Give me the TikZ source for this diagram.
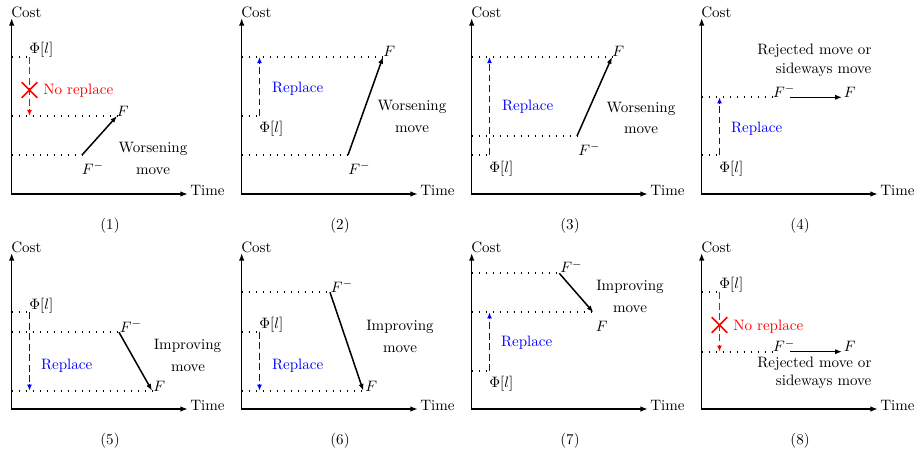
\documentclass[tikz,border=0pt]{standalone}
\usetikzlibrary{arrows.meta,shapes.misc}
\definecolor{myred}{RGB}{255,0,0}
\definecolor{myblue}{RGB}{0,0,255}
\tikzset{
  axis/.style={line width=1pt,{Latex[length=5pt,width=3.6pt]}-{Latex[length=5pt,width=3.6pt]}},
  lbl/.style={inner sep=0pt,font=\normalsize},
  dots/.style={line width=1.1pt,dash pattern=on 1.1pt off 3.55pt},
  movearr/.style={line width=1pt,-{Latex[length=4.5pt,width=3.4pt]}},
  redseg/.style={draw=myred,fill=myred,line width=1.3pt},
  blueseg/.style={draw=myblue,fill=myblue,line width=1.3pt},
  crossmark/.style={cross out,draw=myred,line width=1.1pt,minimum size=9.3pt,inner sep=0pt},
}
\newcommand{\panelaxes}[2]{%
  \coordinate (#1o) at (11.7,#2);
  \coordinate (#1y) at (11.7,18);
  \coordinate (#1x) at (188,#2);
  \draw[axis] (#1y) -- (#1o) -- (#1x);
  \node[lbl,anchor=base west] (#1cost) at (11,17.3) {Cost};
  \node[lbl,anchor=base west] (#1time) at (190,{#2+1}) {Time};
}
% dashed vertical arrow drawn as solid dashes: #1 style, #2 x, #3 from y, #4 to y
\newcommand{\vdasharrow}[4]{%
  \pgfmathsetmacro\dsgn{(#4>#3)?1:-1}%
  \pgfmathsetmacro\dlen{abs(#4-#3)-6}%
  \pgfmathtruncatemacro\dn{floor(\dlen/10.5)}%
  \foreach \i in {0,...,\dn}{%
    \pgfmathsetmacro\ya{#3+\dsgn*\i*10.5}%
    \pgfmathsetmacro\yb{#3+\dsgn*min(\i*10.5+6.8,\dlen)}%
    \draw[#1] (#2,\ya) -- (#2,\yb);
  }%
  \draw[#1,-{Latex[length=4pt,width=3.2pt]}] (#2,{#4-\dsgn*6.5}) -- (#2,#4);
}
\begin{document}
\begin{tikzpicture}[x=0.664pt,y=-0.664pt]
\useasboundingbox (0,0) rectangle (917,455);

% ---------- Panel 1 ----------
\begin{scope}[shift={(0,0)}]
\panelaxes{a}{194}
\coordinate (aphi) at (29.5,57);
\coordinate (aF) at (117,116);
\coordinate (aFm) at (82,155);
\draw[dots] (ao |- aphi) -- (aphi);
\draw[dots] (ao |- aF) -- (aF);
\draw[dots] (ao |- aFm) -- (aFm);
\draw[movearr] (aFm) -- (aF);
\vdasharrow{redseg}{29.5}{57}{116}
\node[crossmark] (acr) at (29.5,90) {};
\node[lbl,anchor=base west] (aphil) at (29,53.5) {$\Phi[l]$};
\node[lbl,text=myred,anchor=base west] (anr) at (43,95) {No replace};
\node[lbl,anchor=base west] (aFl) at (116.5,116.5) {$F$};
\node[lbl,anchor=base west] (aFml) at (81.5,174) {$F^-$};
\node[lbl,anchor=base] (aw1) at (153,152.7) {Worsening};
\node[lbl,anchor=base] (aw2) at (153,174) {move};
\node[lbl,anchor=base] (acap) at (110,229.5) {(1)};
\end{scope}

% ---------- Panel 2 ----------
\begin{scope}[shift={(230,0)}]
\panelaxes{b}{194}
\coordinate (bphi) at (29.5,116);
\coordinate (bF) at (153,57);
\coordinate (bFm) at (118,155);
\draw[dots] (bo |- bphi) -- (bphi);
\draw[dots] (bo |- bF) -- (bF);
\draw[dots] (bo |- bFm) -- (bFm);
\draw[movearr] (bFm) -- (bF);
\vdasharrow{blueseg}{29.5}{116}{57}
\node[lbl,anchor=base west] (bphil) at (29,133) {$\Phi[l]$};
\node[lbl,text=myblue,anchor=base west] (brp) at (41.7,92.7) {Replace};
\node[lbl,anchor=base west] (bFl) at (153,57) {$F$};
\node[lbl,anchor=base west] (bFml) at (118,174) {$F^-$};
\node[lbl,anchor=base] (bw1) at (182,111) {Worsening};
\node[lbl,anchor=base] (bw2) at (182,132.7) {move};
\node[lbl,anchor=base] (bcap) at (110,229.5) {(2)};
\end{scope}

% ---------- Panel 3 ----------
\begin{scope}[shift={(460,0)}]
\panelaxes{c}{194}
\coordinate (cphi) at (29.5,155);
\coordinate (cF) at (152,57);
\coordinate (cFm) at (117,136);
\draw[dots] (co |- cphi) -- (cphi);
\draw[dots] (co |- cF) -- (cF);
\draw[dots] (co |- cFm) -- (cFm);
\draw[movearr] (cFm) -- (cF);
\vdasharrow{blueseg}{29.5}{155}{57}
\node[lbl,anchor=base west] (cphil) at (29,172) {$\Phi[l]$};
\node[lbl,text=myblue,anchor=base west] (crp) at (41.7,111) {Replace};
\node[lbl,anchor=base west] (cFl) at (152,57) {$F$};
\node[lbl,anchor=base west] (cFml) at (118,155) {$F^-$};
\node[lbl,anchor=base] (cw1) at (181,112.7) {Worsening};
\node[lbl,anchor=base] (cw2) at (181,133.3) {move};
\node[lbl,anchor=base] (ccap) at (110,229.5) {(3)};
\end{scope}

% ---------- Panel 4 ----------
\begin{scope}[shift={(690,0)}]
\panelaxes{d}{194}
\coordinate (dphi) at (29.5,155);
\coordinate (dFm) at (83,97.3);
\coordinate (dA) at (100,97.3);
\coordinate (dB) at (152,97.3);
\draw[dots] (do |- dphi) -- (dphi);
\draw[dots] (do |- dFm) -- (dFm);
\draw[movearr] (dA) -- (dB);
\vdasharrow{blueseg}{29.5}{155}{97.3}
\node[lbl,anchor=base west] (dphil) at (29,172) {$\Phi[l]$};
\node[lbl,text=myblue,anchor=base west] (drp) at (40.7,132.7) {Replace};
\node[lbl,anchor=base west] (dFml) at (82.7,97.3) {$F^-$};
\node[lbl,anchor=base west] (dFl) at (153.5,97.3) {$F$};
\node[lbl,anchor=base east] (dr1) at (181.7,54.3) {Rejected move or};
\node[lbl,anchor=base east] (dr2) at (181.7,73.3) {sideways move};
\node[lbl,anchor=base] (dcap) at (110,229.5) {(4)};
\end{scope}

% ---------- Panel 5 ----------
\begin{scope}[shift={(0,235)}]
\panelaxes{e}{174}
\coordinate (ephi) at (29.5,77.3);
\coordinate (eFm) at (119,97.3);
\coordinate (eF) at (152,155.7);
\draw[dots] (eo |- ephi) -- (ephi);
\draw[dots] (eo |- eFm) -- (eFm);
\draw[dots] (eo |- eF) -- (eF);
\draw[movearr] (eFm) -- (eF);
\vdasharrow{blueseg}{29.5}{77.3}{155.7}
\node[lbl,anchor=base west] (ephil) at (29,74) {$\Phi[l]$};
\node[lbl,anchor=base west] (eFml) at (119.5,97) {$F^-$};
\node[lbl,anchor=base west] (eFl) at (153,156.7) {$F$};
\node[lbl,text=myblue,anchor=base west] (erp) at (40.7,134) {Replace};
\node[lbl,anchor=base] (ei1) at (187.5,114.3) {Improving};
\node[lbl,anchor=base] (ei2) at (188,136) {move};
\node[lbl,anchor=base] (ecap) at (110,209.5) {(5)};
\end{scope}

% ---------- Panel 6 ----------
\begin{scope}[shift={(230,235)}]
\panelaxes{f}{174}
\coordinate (fphi) at (29.5,96.7);
\coordinate (fFm) at (100,57.3);
\coordinate (fF) at (133.3,155.7);
\draw[dots] (fo |- fphi) -- (fphi);
\draw[dots] (fo |- fFm) -- (fFm);
\draw[dots] (fo |- fF) -- (fF);
\draw[movearr] (fFm) -- (fF);
\vdasharrow{blueseg}{29.5}{96.7}{155.7}
\node[lbl,anchor=base west] (fphil) at (29,93.3) {$\Phi[l]$};
\node[lbl,anchor=base west] (fFml) at (100.5,57) {$F^-$};
\node[lbl,anchor=base west] (fFl) at (135,156.7) {$F$};
\node[lbl,text=myblue,anchor=base west] (frp) at (41.7,134) {Replace};
\node[lbl,anchor=base] (fi1) at (170,95) {Improving};
\node[lbl,anchor=base] (fi2) at (170,117.3) {move};
\node[lbl,anchor=base] (fcap) at (110,209.5) {(6)};
\end{scope}

% ---------- Panel 7 ----------
\begin{scope}[shift={(460,235)}]
\panelaxes{g}{174}
\coordinate (gphi) at (29.5,136);
\coordinate (gFm) at (99.3,38.3);
\coordinate (gF) at (133.3,77.3);
\draw[dots] (go |- gphi) -- (gphi);
\draw[dots] (go |- gFm) -- (gFm);
\draw[dots] (go |- gF) -- (gF);
\draw[movearr] (gFm) -- (gF);
\vdasharrow{blueseg}{29.5}{136}{77.3}
\node[lbl,anchor=base west] (gphil) at (29,152.5) {$\Phi[l]$};
\node[lbl,anchor=base west] (gFml) at (100,37.5) {$F^-$};
\node[lbl,anchor=base west] (gFl) at (135.5,96) {$F$};
\node[lbl,text=myblue,anchor=base west] (grp) at (40.7,111.7) {Replace};
\node[lbl,anchor=base] (gi1) at (170,55) {Improving};
\node[lbl,anchor=base] (gi2) at (170,77.3) {move};
\node[lbl,anchor=base] (gcap) at (110,209.5) {(7)};
\end{scope}

% ---------- Panel 8 ----------
\begin{scope}[shift={(690,235)}]
\panelaxes{h}{174}
\coordinate (hphi) at (29.5,57.3);
\coordinate (hFm) at (83,116.7);
\coordinate (hA) at (100,116.7);
\coordinate (hB) at (152,116.7);
\draw[dots] (ho |- hphi) -- (hphi);
\draw[dots] (ho |- hFm) -- (hFm);
\draw[movearr] (hA) -- (hB);
\vdasharrow{redseg}{29.5}{57.3}{116.7}
\node[crossmark] (hcr) at (29.5,90) {};
\node[lbl,anchor=base west] (hphil) at (29,53.5) {$\Phi[l]$};
\node[lbl,text=myred,anchor=base west] (hnr) at (43,95) {No replace};
\node[lbl,anchor=base west] (hFml) at (82.7,116.7) {$F^-$};
\node[lbl,anchor=base west] (hFl) at (153.5,116.7) {$F$};
\node[lbl,anchor=base east] (hr1) at (181.7,132.7) {Rejected move or};
\node[lbl,anchor=base east] (hr2) at (181.7,150.7) {sideways move};
\node[lbl,anchor=base] (hcap) at (110,209.5) {(8)};
\end{scope}
\end{tikzpicture}
\end{document}
